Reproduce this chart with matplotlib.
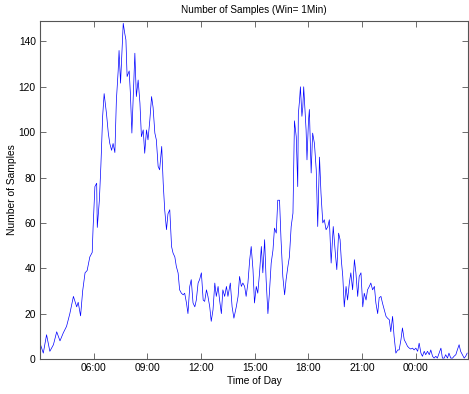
import matplotlib
matplotlib.use("Agg")
import matplotlib.pyplot as plt

plt.rcParams['font.family'] = ['Liberation Sans', 'DejaVu Sans']

# minutes after 03:00
minutes = [
    0, 11, 22, 33, 45, 56, 67, 78, 89, 100, 112, 123, 128, 136, 143, 151, 158, 167, 175, 178,
    184, 190, 192, 199, 204, 210, 215, 223, 229, 234, 240, 245, 251, 256, 262, 265, 270, 275, 279, 284,
    288, 292, 299, 303, 308, 312, 318, 323, 329, 335, 340, 346, 351, 357, 362, 368, 374, 379, 385, 390,
    396, 401, 408, 413, 418, 424, 429, 435, 441, 446, 452, 457, 463, 468, 474, 480,
    485, 491, 496, 502, 507, 513, 519, 524, 530, 535, 541, 547, 552, 558, 563, 569, 574, 580, 586, 591,
    597, 602, 608, 613, 619, 625, 630, 638, 644, 650, 658, 664, 669, 675, 680, 686, 691, 697, 703, 708,
    714, 719, 725, 730, 736, 742, 747, 753, 758, 764, 769, 775, 781, 786, 792, 797, 803, 808, 814, 820,
    825, 831, 836, 842, 848, 853, 859, 864, 866, 870, 873, 878, 881, 884, 889, 892, 895, 900, 903, 909,
    914, 920, 926, 931, 937, 942, 948, 953, 959, 965,
    970, 976, 983, 990, 995, 1001, 1006, 1010, 1015, 1020, 1026, 1031, 1037, 1042, 1048, 1054, 1059, 1065, 1070, 1076,
    1082, 1087, 1093, 1098, 1104, 1109, 1115, 1121, 1126, 1132, 1137, 1143, 1148, 1154, 1160, 1165, 1171, 1176, 1182, 1187,
    1193, 1199, 1204, 1210, 1215, 1221, 1227, 1232, 1238, 1243, 1249, 1254, 1260, 1266, 1271, 1277, 1282, 1288, 1293, 1299,
    1305, 1310, 1316, 1321, 1327, 1332, 1338, 1344, 1349, 1355, 1360, 1366, 1371, 1377, 1383, 1388, 1394, 1399, 1405, 1410,
    1416, 1422, 1427, 1432,
]

samples = [
    7, 2.6, 10.7, 3.4, 6.3, 12, 8, 11.5, 14.4, 20, 27.6, 23, 25, 19, 30, 38, 39, 45, 47, 58,
    76, 77.5, 58, 70, 85, 107, 117, 108, 99.5, 95, 92, 95, 91, 114, 127, 136, 121.6, 136, 148, 143.6,
    140.7, 124.5, 127, 117, 99.6, 114, 134.8, 115.7, 123, 112.8, 98, 101, 90.7, 101, 96.6, 105, 115.7, 111, 99.6, 96.6,
    84.9, 83.4, 93.7, 77.5, 65.8, 57, 64, 65.8, 49.6, 46.7, 45, 40.8, 37.9, 30.5, 29, 28.3,
    29, 24.7, 20, 32, 35, 24.7, 23, 26, 33.5, 35, 38, 26, 25.4, 30.5, 27.6, 23, 16.6, 21.7, 33.5, 27.6,
    32, 26, 20, 30.5, 27.6, 32, 27.6, 33.5, 23, 18, 23, 27.6, 36.4, 32, 33.5, 32, 27.6, 33.5, 43.8, 49.6,
    39.4, 24.7, 32, 29, 38, 49.6, 38, 52.6, 35, 20, 29, 42.3, 48, 57.7, 55.5, 70, 70, 52.6, 36.4, 28.3,
    35, 40.8, 45, 58.4, 64.3, 105, 98, 76, 108, 114, 120, 107, 111, 120, 108, 101, 87.8, 105, 110, 82,
    99.6, 95, 83.4, 58.4, 89, 73, 60, 61.4, 57, 58.4,
    61.4, 42.3, 58.4, 46.7, 39.4, 55.5, 52.6, 43.8, 36.4, 23, 32, 26, 33.5, 38, 30.5, 43.8, 38, 27.6, 36.4, 38,
    23, 29, 26, 30.5, 32, 33.5, 30.5, 32, 24.7, 20, 27, 27.6, 24.7, 21.7, 18.8, 18, 17.3, 12, 18.8, 10,
    2.6, 4, 4, 8.5, 13.7, 8.5, 7, 5.6, 4.8, 4.4, 4.8, 4, 4.8, 3.4, 7, 2.6, 1.2, 3.4, 1.9, 3.4,
    1.9, 4, 1.2, 0.4, 1.2, 0.4, 2.6, 4.8, 0.4, 0.4, 1.9, 0.4, 2.6, 0.4, 0.4, 1.2, 1.9, 4, 6.3, 3.4,
    1.9, 0.4, 1.2, 2.6,
]

tick_minutes = [180, 360, 540, 720, 900, 1080, 1260]
tick_labels = ['06:00', '09:00', '12:00', '15:00', '18:00', '21:00', '00:00']
y_ticks = [0, 20, 40, 60, 80, 100, 120, 140]

fig = plt.figure(figsize=(4.69, 3.94), dpi=100)
ax = fig.add_axes([0.0853, 0.0888, 0.9127, 0.8579])
ax.plot(minutes, samples, color=(0, 0, 1), linewidth=0.5)
ax.set_xlim(0, 1435)
ax.set_ylim(0, 149)
ax.set_xticks(tick_minutes)
ax.set_xticklabels(tick_labels)
ax.set_yticks(y_ticks)
ax.tick_params(direction='in', length=4, width=0.6, colors='#555555', labelcolor='black',
               labelsize=7.4, top=True, right=True, pad=3)
for s in ax.spines.values():
    s.set_color('#555555')
    s.set_linewidth(0.8)
ax.set_title('Number of Samples (Win= 1Min)', fontsize=7.2, pad=6)
ax.set_xlabel('Time of Day', fontsize=7.4, labelpad=2)
ax.set_ylabel('Number of Samples', fontsize=7.4)
ax.yaxis.set_label_coords(-0.054, 0.5)
fig.savefig('out.png', dpi=100)
